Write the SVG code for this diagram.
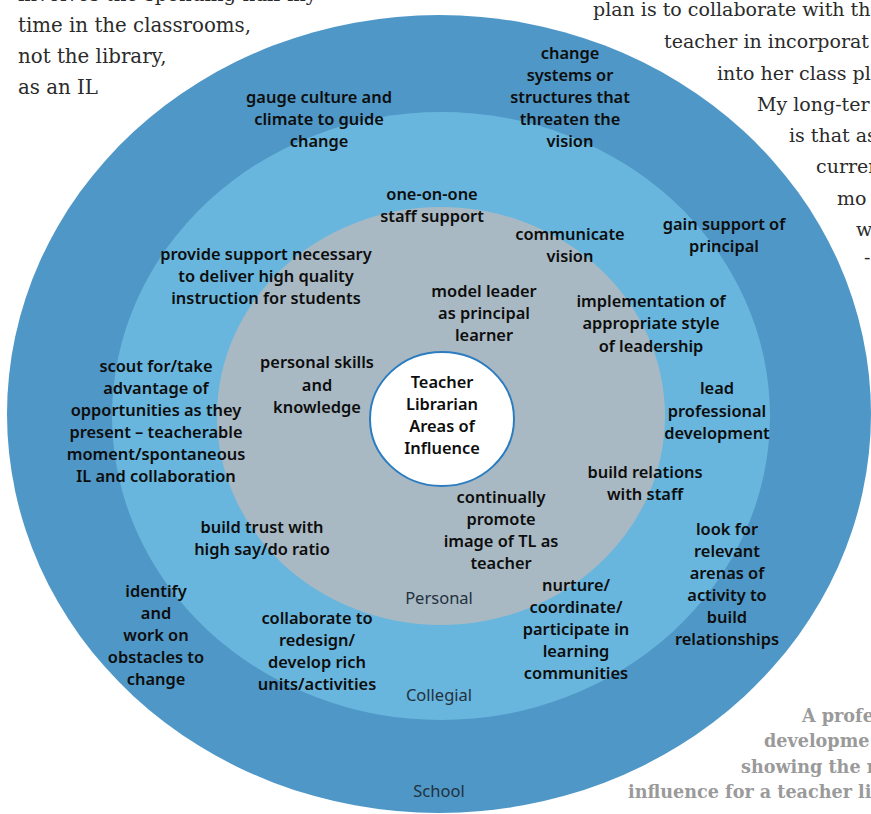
<svg xmlns="http://www.w3.org/2000/svg" width="871" height="814" viewBox="0 0 871 814">
  <style>
    .lbl { font-family: "Noto Sans", "DejaVu Sans", sans-serif; font-weight: 600; font-size: 16.4px; fill: #0d0d0d; text-anchor: middle; }
    .ring { font-family: "Noto Sans", "DejaVu Sans", sans-serif; font-size: 16.5px; fill: #22313d; text-anchor: middle; }
    .body { font-family: "DejaVu Serif", "Liberation Serif", serif; font-size: 19.8px; fill: #2b2b2b; }
    .body-r { font-family: "DejaVu Serif", "Liberation Serif", serif; font-size: 19px; fill: #2b2b2b; }
    .cap { font-family: "DejaVu Serif", "Liberation Serif", serif; font-weight: bold; font-size: 17.6px; fill: #9a9a9a; }
  </style>
  <rect width="871" height="814" fill="#ffffff"/>

  <!-- surrounding article text -->
  <g id="body-text-left" class="body">
    <text x="18" y="1">involves the spending half my</text>
    <text x="18" y="32">time in the classrooms,</text>
    <text x="18" y="63">not the library,</text>
    <text x="18" y="94">as an IL</text>
  </g>

  <!-- nested areas of influence -->
  <g id="school">
    <ellipse cx="439" cy="414" rx="432" ry="399" fill="#4e97c7"/>
  </g>
  <g id="collegial">
    <ellipse cx="441" cy="416" rx="329" ry="304" fill="#68b6de"/>
  </g>
  <g id="personal">
    <ellipse cx="441" cy="416" rx="224" ry="209" fill="#a9b9c3"/>
  </g>
  <g id="core">
    <ellipse cx="442" cy="419" rx="72" ry="67" fill="#ffffff" stroke="#2c7cc0" stroke-width="2"/>
    <text class="lbl" x="442" y="388">Teacher</text>
    <text class="lbl" x="442" y="410">Librarian</text>
    <text class="lbl" x="442" y="432">Areas of</text>
    <text class="lbl" x="442" y="454">Influence</text>
  </g>

  <g id="connectors"></g>

  <!-- ring names -->
  <g id="ring-names" class="ring">
    <text x="439" y="604">Personal</text>
    <text x="439" y="701">Collegial</text>
    <text x="439" y="797">School</text>
  </g>

  <!-- school ring -->
  <g id="gauge-culture" class="lbl">
    <text x="319" y="103">gauge culture and</text>
    <text x="319" y="125">climate to guide</text>
    <text x="319" y="147">change</text>
  </g>
  <g id="change-systems" class="lbl">
    <text x="570" y="59">change</text>
    <text x="570" y="81">systems or</text>
    <text x="570" y="103">structures that</text>
    <text x="570" y="125">threaten the</text>
    <text x="570" y="147">vision</text>
  </g>
  <g id="gain-support" class="lbl">
    <text x="724" y="230">gain support of</text>
    <text x="724" y="252">principal</text>
  </g>
  <g id="look-for" class="lbl">
    <text x="727" y="535">look for</text>
    <text x="727" y="557">relevant</text>
    <text x="727" y="579">arenas of</text>
    <text x="727" y="601">activity to</text>
    <text x="727" y="623">build</text>
    <text x="727" y="645">relationships</text>
  </g>
  <g id="identify" class="lbl">
    <text x="156" y="597">identify</text>
    <text x="156" y="619">and</text>
    <text x="156" y="641">work on</text>
    <text x="156" y="663">obstacles to</text>
    <text x="156" y="685">change</text>
  </g>

  <!-- collegial ring -->
  <g id="scout" class="lbl">
    <text x="156" y="372">scout for/take</text>
    <text x="156" y="394">advantage of</text>
    <text x="156" y="416">opportunities as they</text>
    <text x="156" y="438">present – teacherable</text>
    <text x="156" y="460">moment/spontaneous</text>
    <text x="156" y="482">IL and collaboration</text>
  </g>
  <g id="one-on-one" class="lbl">
    <text x="432" y="200">one-on-one</text>
    <text x="432" y="222">staff support</text>
  </g>
  <g id="provide-support" class="lbl">
    <text x="266" y="260">provide support necessary</text>
    <text x="266" y="282">to deliver high quality</text>
    <text x="266" y="304">instruction for students</text>
  </g>
  <g id="communicate" class="lbl">
    <text x="570" y="240">communicate</text>
    <text x="570" y="262">vision</text>
  </g>
  <g id="implementation" class="lbl">
    <text x="651" y="307">implementation of</text>
    <text x="651" y="329">appropriate style</text>
    <text x="651" y="352">of leadership</text>
  </g>
  <g id="lead-pd" class="lbl">
    <text x="717" y="394">lead</text>
    <text x="717" y="417">professional</text>
    <text x="717" y="439">development</text>
  </g>
  <g id="build-relations" class="lbl">
    <text x="645" y="478">build relations</text>
    <text x="645" y="500">with staff</text>
  </g>
  <g id="build-trust" class="lbl">
    <text x="262" y="533">build trust with</text>
    <text x="262" y="555">high say/do ratio</text>
  </g>
  <g id="collaborate" class="lbl">
    <text x="317" y="624">collaborate to</text>
    <text x="317" y="646">redesign/</text>
    <text x="317" y="668">develop rich</text>
    <text x="317" y="690">units/activities</text>
  </g>
  <g id="nurture" class="lbl">
    <text x="576" y="591">nurture/</text>
    <text x="576" y="613">coordinate/</text>
    <text x="576" y="635">participate in</text>
    <text x="576" y="657">learning</text>
    <text x="576" y="679">communities</text>
  </g>

  <!-- personal ring -->
  <g id="model-leader" class="lbl">
    <text x="484" y="297">model leader</text>
    <text x="484" y="319">as principal</text>
    <text x="484" y="341">learner</text>
  </g>
  <g id="personal-skills" class="lbl">
    <text x="317" y="368">personal skills</text>
    <text x="317" y="391">and</text>
    <text x="317" y="413">knowledge</text>
  </g>
  <g id="promote-image" class="lbl">
    <text x="501" y="503">continually</text>
    <text x="501" y="525">promote</text>
    <text x="501" y="547">image of TL as</text>
    <text x="501" y="569">teacher</text>
  </g>

  <!-- surrounding article text, right column -->
  <g id="body-text-right" class="body-r">
    <text x="593" y="16">plan is to collaborate with th</text>
    <text x="664" y="48">teacher in incorporat</text>
    <text x="717" y="80">into her class pl</text>
    <text x="757" y="111">My long-ter</text>
    <text x="789" y="142">is that as</text>
    <text x="816" y="173">curren</text>
    <text x="837" y="205">mo</text>
    <text x="856" y="236">w</text>
    <text x="864" y="264">-</text>
  </g>

  <!-- figure caption -->
  <g id="caption" class="cap">
    <text x="802" y="722">A profe</text>
    <text x="764" y="747">developme</text>
    <text x="741" y="773">showing the r</text>
    <text x="628" y="798">influence for a teacher li</text>
  </g>
</svg>
